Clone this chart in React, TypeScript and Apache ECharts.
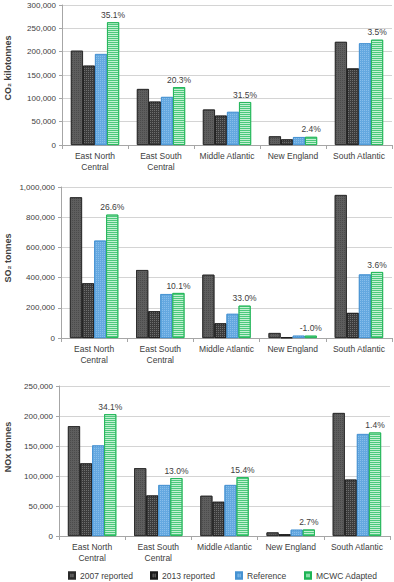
import React, { useEffect, useRef } from "react";
import * as echarts from "echarts";

const categories = ["East North\nCentral", "East South\nCentral", "Middle Atlantic", "New England", "South Atlantic"];
const seriesNames = ["2007 reported", "2013 reported", "Reference", "MCWC Adapted"];

// CO2 kilotonnes
const co2_2007 = [202000, 120000, 76000, 18600, 221000];
const co2_2013 = [170000, 93000, 63000, 12000, 164000];
const co2_ref = [195000, 103000, 71000, 17000, 218000];
const co2_mcwc = [263000, 124000, 92000, 17400, 225500];
const co2_pct = ["35.1%", "20.3%", "31.5%", "2.4%", "3.5%"];

// SO2 tonnes
const so2_2007 = [932000, 450000, 419000, 33000, 947000];
const so2_2013 = [362000, 177000, 97000, 4000, 166000];
const so2_ref = [645000, 291000, 160000, 15500, 421000];
const so2_mcwc = [817000, 298000, 214000, 15300, 437000];
const so2_pct = ["26.6%", "10.1%", "33.0%", "-1.0%", "3.6%"];

// NOx tonnes
const nox_2007 = [183000, 113000, 67000, 6000, 205000];
const nox_2013 = [121000, 67500, 57000, 3000, 94000];
const nox_ref = [151000, 85000, 85000, 10500, 170000];
const nox_mcwc = [203000, 96500, 98000, 10800, 172500];
const nox_pct = ["34.1%", "13.0%", "15.4%", "2.7%", "1.4%"];

const yMax = [300000, 1000000, 250000];
const yInterval = [50000, 200000, 50000];
const yNames = ["CO₂ kilotonnes", "SO₂ tonnes", "NOx tonnes"];

const panels = [
  { data: [co2_2007, co2_2013, co2_ref, co2_mcwc], pct: co2_pct },
  { data: [so2_2007, so2_2013, so2_ref, so2_mcwc], pct: so2_pct },
  { data: [nox_2007, nox_2013, nox_ref, nox_mcwc], pct: nox_pct },
];

const FONT = "Liberation Sans, Arial, sans-serif";

const styles = [
  {
    color: "#5e5e5e",
    borderColor: "#2a2a2a",
    borderWidth: 0.8,
    decal: { symbol: "rect", symbolSize: 1, color: "rgba(0,0,0,0.2)", dashArrayX: [1, 1], dashArrayY: [1, 1], rotation: 0 },
  },
  {
    color: "#3c3c3c",
    borderColor: "#1a1a1a",
    borderWidth: 0.8,
    decal: { symbol: "rect", symbolSize: 1, color: "rgba(170,170,170,0.45)", dashArrayX: [1, 1], dashArrayY: [1, 1], rotation: 0 },
  },
  {
    color: "#64a8e0",
    borderColor: "#4592d2",
    borderWidth: 0.8,
    decal: { symbol: "rect", symbolSize: 1, color: "rgba(160,205,242,0.6)", dashArrayX: [1, 1], dashArrayY: [1, 1], rotation: 0 },
  },
  {
    color: "#c4f0d3",
    borderColor: "#1db454",
    borderWidth: 0.8,
    decal: { symbol: "rect", symbolSize: 1, color: "#4cc97c", dashArrayX: [1, 0], dashArrayY: [1, 1], rotation: 0 },
  },
];

const grids = [
  { left: 62, right: 2, top: 5, height: 140 },
  { left: 61, right: 2, top: 187, height: 151 },
  { left: 59, right: 4, top: 386, height: 150 },
];
const nameY = [68, 258, 447];
const legendLeft = [68, 150, 235, 304];

const fmt = (v: number) => v.toLocaleString("en-US");

export default function App() {
  const ref = useRef<HTMLDivElement>(null);
  useEffect(() => {
    if (!ref.current) return;
    const chart = echarts.init(ref.current, null, { renderer: "svg" });
    const series: any[] = [];
    panels.forEach((p, gi) => {
      p.data.forEach((d, si) => {
        series.push({
          type: "bar",
          name: seriesNames[si],
          xAxisIndex: gi,
          yAxisIndex: gi,
          data: d,
          barGap: "0%",
          barCategoryGap: "27%",
          itemStyle: styles[si],
          label:
            si === 3
              ? {
                  show: true,
                  position: "top",
                  distance: 3,
                  fontSize: 8.5,
                  fontFamily: FONT,
                  color: "#404040",
                  formatter: (pp: any) => p.pct[pp.dataIndex],
                }
              : { show: false },
        });
      });
    });
    chart.setOption({
      animation: false,
      backgroundColor: "#ffffff",
      grid: grids,
      xAxis: grids.map((_, gi) => ({
        type: "category",
        gridIndex: gi,
        data: categories,
        axisLine: { lineStyle: { color: "#a6a6a6", width: 1 } },
        axisTick: { show: true, length: 4, lineStyle: { color: "#a6a6a6" } },
        axisLabel: {
          fontSize: 8.5,
          lineHeight: 10.5,
          margin: 6,
          color: "#404040",
          fontFamily: FONT,
          interval: 0,
        },
      })),
      yAxis: grids.map((_, gi) => ({
        type: "value",
        gridIndex: gi,
        min: 0,
        max: yMax[gi],
        interval: yInterval[gi],
        axisLine: { show: true, lineStyle: { color: "#a6a6a6" } },
        axisTick: { show: true, length: 3, lineStyle: { color: "#a6a6a6" } },
        splitLine: { lineStyle: { color: "#d4d4d4", width: 1 } },
        axisLabel: {
          fontSize: 8,
          color: "#404040",
          margin: 6,
          fontFamily: FONT,
          formatter: fmt,
        },
      })),
      legend: seriesNames.map((n, i) => ({
        data: [n],
        orient: "horizontal",
        top: 571,
        left: legendLeft[i],
        padding: 0,
        itemWidth: 6,
        itemHeight: 6,
        itemGap: 0,
        icon: "rect",
        textStyle: { fontSize: 8.5, color: "#404040", fontFamily: FONT },
      })),
      graphic: yNames.map((n, i) => ({
        type: "text",
        x: 8,
        y: nameY[i],
        rotation: Math.PI / 2,
        style: {
          text: n,
          fontSize: 9,
          fontWeight: "bold",
          fill: "#404040",
          fontFamily: FONT,
          textAlign: "center",
          textVerticalAlign: "middle",
        },
      })),
      series,
    });
    return () => chart.dispose();
  }, []);
  return (
    <div
      ref={ref}
      style={{ position: "absolute", left: 0, top: 0, width: 394, height: 582, background: "#fff" }}
    />
  );
}
